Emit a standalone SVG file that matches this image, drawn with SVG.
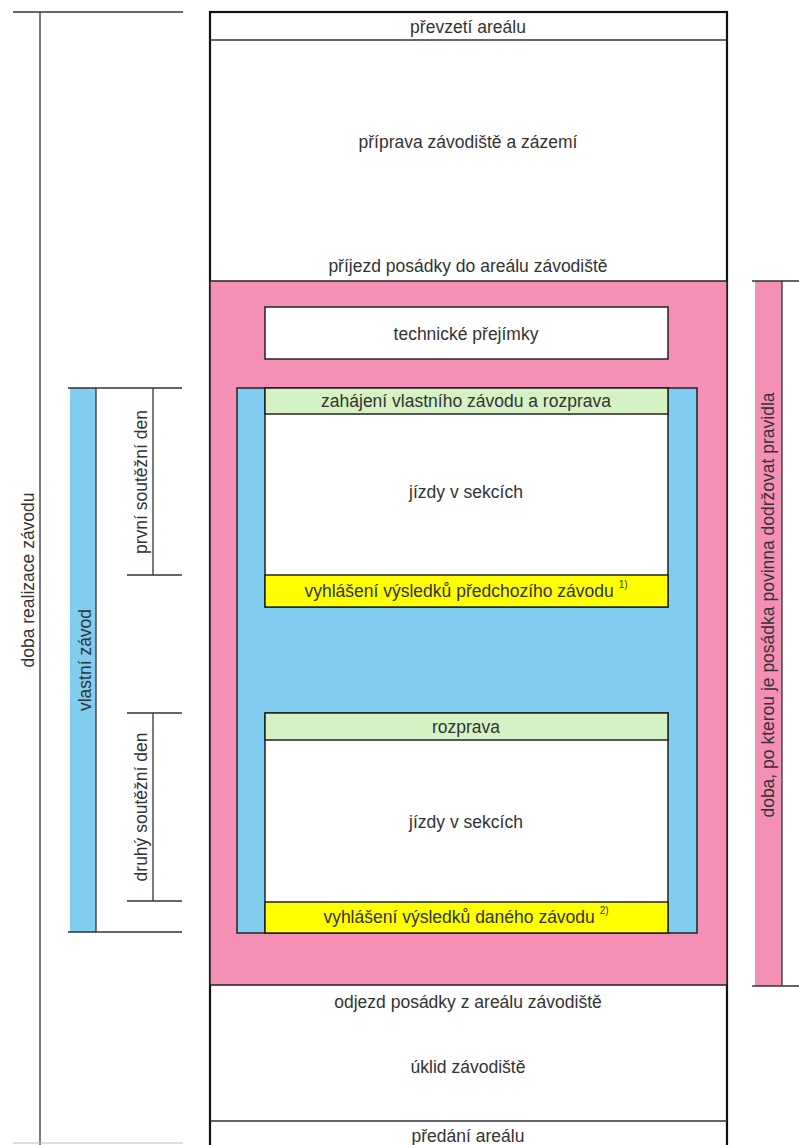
<svg xmlns="http://www.w3.org/2000/svg" width="799" height="1145" viewBox="0 0 799 1145">
<style>
text{font-family:"Liberation Sans",Arial,sans-serif;font-size:17.5px;fill:#333;text-anchor:middle;dominant-baseline:central}
.ln{stroke:#333;stroke-width:1.3;fill:none}
.bx{stroke:#222;stroke-width:1.5}
.sup{font-size:10px}
</style>
<rect width="799" height="1145" fill="#fff"/>
<g id="main">
<rect x="210" y="12" width="517" height="1140" fill="#fff" stroke="#111" stroke-width="2.2"/>
<line class="ln" x1="210" y1="40" x2="727" y2="40"/>
<text x="468" y="27">převzetí areálu</text>
<text x="468" y="142">příprava závodiště a zázemí</text>
<text x="468" y="266">příjezd posádky do areálu závodiště</text>
</g>
<g id="pink">
<rect x="210" y="281" width="517" height="704" fill="#f490b6" stroke="#222" stroke-width="1.5"/>
</g>
<g id="technicke">
<rect class="bx" x="265" y="307" width="403" height="52" fill="#fff"/>
<text x="466" y="334">technické přejímky</text>
</g>
<g id="vlastni">
<rect class="bx" x="237" y="388" width="460" height="545" fill="#80cdf0"/>
</g>
<g id="den1">
<rect class="bx" x="265" y="388" width="403" height="219" fill="#fff"/>
<rect class="bx" x="265" y="388" width="403" height="26" fill="#d5f2c5"/>
<text x="466" y="401">zahájení vlastního závodu a rozprava</text>
<text x="466" y="492">jízdy v sekcích</text>
<rect class="bx" x="265" y="575" width="403" height="32" fill="#ffff00"/>
<text x="466" y="591">vyhlášení výsledků předchozího závodu <tspan class="sup" dy="-7">1)</tspan></text>
</g>
<g id="den2">
<rect class="bx" x="265" y="713" width="403" height="220" fill="#fff"/>
<rect class="bx" x="265" y="713" width="403" height="27" fill="#d5f2c5"/>
<text x="466" y="727">rozprava</text>
<text x="466" y="822">jízdy v sekcích</text>
<rect class="bx" x="265" y="902" width="403" height="31" fill="#ffff00"/>
<text x="466" y="917">vyhlášení výsledků daného závodu <tspan class="sup" dy="-7">2)</tspan></text>
</g>
<g id="konec">
<text x="468" y="1002">odjezd posádky z areálu závodiště</text>
<text x="468" y="1067">úklid závodiště</text>
<line class="ln" x1="210" y1="1121" x2="727" y2="1121"/>
<text x="468" y="1136">předání areálu</text>
</g>
<g id="connectors">
<polyline class="ln" points="13,12 183,12"/>
<line class="ln" x1="40" y1="12" x2="40" y2="1145"/>
<line x1="13" y1="1143" x2="183" y2="1143" stroke="#bbb" stroke-width="1"/>
<rect x="70" y="388" width="26" height="544" fill="#80cdf0"/>
<line class="ln" x1="96" y1="388" x2="96" y2="932"/>
<line class="ln" x1="68" y1="388" x2="182" y2="388"/>
<line class="ln" x1="68" y1="932" x2="182" y2="932"/>
<line class="ln" x1="153" y1="388" x2="153" y2="575"/>
<line class="ln" x1="127" y1="575" x2="182" y2="575"/>
<line class="ln" x1="127" y1="713" x2="182" y2="713"/>
<line class="ln" x1="153" y1="713" x2="153" y2="901"/>
<line class="ln" x1="127" y1="901" x2="182" y2="901"/>
<rect x="755" y="281" width="27" height="705" fill="#f490b6"/>
<line class="ln" x1="782" y1="281" x2="782" y2="986"/>
<line class="ln" x1="752" y1="281" x2="799" y2="281"/>
<line class="ln" x1="752" y1="986" x2="799" y2="986"/>
</g>
<g id="labels">
<text transform="translate(28,580) rotate(-90)">doba realizace závodu</text>
<text transform="translate(85,660) rotate(-90)">vlastní závod</text>
<text transform="translate(141,482) rotate(-90)">první soutěžní den</text>
<text transform="translate(141,807) rotate(-90)">druhý soutěžní den</text>
<text transform="translate(768,605) rotate(-90)">doba, po kterou je posádka povinna dodržovat pravidla</text>
</g>
</svg>
